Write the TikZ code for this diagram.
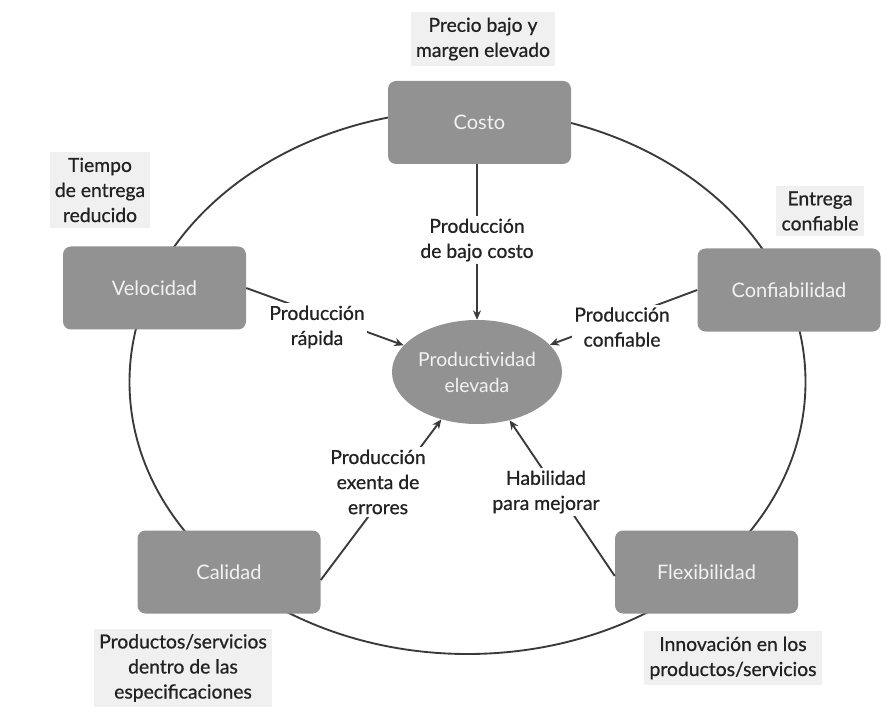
\documentclass[tikz,border=0pt]{standalone}
\usepackage{fontspec}
\setmainfont{Lato}
\newfontfamily\labelfont[FakeBold=0.7]{Lato}
\usetikzlibrary{shapes.geometric,arrows.meta}
\definecolor{boxgray}{HTML}{929292}
\definecolor{linegray}{HTML}{3A3A3A}
\definecolor{txt}{HTML}{222222}
\definecolor{boxtxt}{HTML}{F2F2F2}
\begin{document}
\begin{tikzpicture}[x=0.75pt,y=-0.75pt,
  factor/.style={draw=none,fill=boxgray,rounded corners=6pt,minimum width=183*0.75pt,
    minimum height=83*0.75pt,text=boxtxt,font=\fontsize{15}{18}\selectfont},
  core/.style={ellipse,fill=boxgray,minimum width=170*0.75pt,minimum height=104*0.75pt,
    inner sep=0pt,text=boxtxt,align=center,font=\fontsize{14.5}{19.5}\selectfont},
  lbl/.style={align=center,text=txt,font=\labelfont\fontsize{14.5}{18.8}\selectfont,inner sep=2pt},
  onlink/.style={lbl,fill=white},
  outer/.style={lbl,fill=black!6,inner sep=4pt},
  link/.style={draw=linegray,line width=1.4pt,-{Stealth[length=7pt,width=6pt]}},
  ring/.style={draw=linegray,line width=1.4pt}]
\useasboundingbox (0,0) rectangle (895,716);
\fill[white] (0,0) rectangle (895,716);

% outer ring joining the five factors
\draw[ring] (467.5,382) ellipse [x radius=338, y radius=272];

% factor boxes
\node[factor] (costo) at (479.5,122.5) {Costo};
\node[factor] (velo) at (154.5,288) {Velocidad};
\node[factor] (conf) at (789,290) {Confiabilidad};
\node[factor] (cal) at (229,572) {Calidad};
\node[factor] (flex) at (706.5,572) {Flexibilidad};

% central goal
\node[core] (prod) at (477,372) {Productividad\\elevada};

% links into the centre
\draw[link] (costo.south -| prod.north) -- (prod.north);
\draw[link] (velo.east) -- (prod);
\draw[link] (conf.west) -- (prod);
\draw[link] ([yshift=-8*0.75pt]cal.east) -- (prod);
\draw[link] ([yshift=-4*0.75pt]flex.west) -- (prod);

% labels sitting on the links
\node[onlink] (lcosto) at (477,240) {Producción\\de bajo costo};
\node[onlink] (lvelo) at (317,327) {Producción\\rápida};
\node[onlink] (lconf) at (622,327) {Producción\\confiable};
\node[onlink] (lcal) at (378,482) {Producción\\exenta de\\errores};
\node[onlink] (lflex) at (546,492) {Habilidad\\para mejorar};

% outcome labels around the ring
\node[outer] (ocosto) at (483,39) {Precio bajo y\\margen elevado};
\node[outer] (ovelo) at (100,190) {Tiempo\\de entrega\\reducido};
\node[outer] (oconf) at (820,211) {Entrega\\confiable};
\node[outer] (ocal) at (183,668) {Productos/servicios\\dentro de las\\especificaciones};
\node[outer] (oflex) at (733,658) {Innovación en los\\productos/servicios};
\end{tikzpicture}
\end{document}
